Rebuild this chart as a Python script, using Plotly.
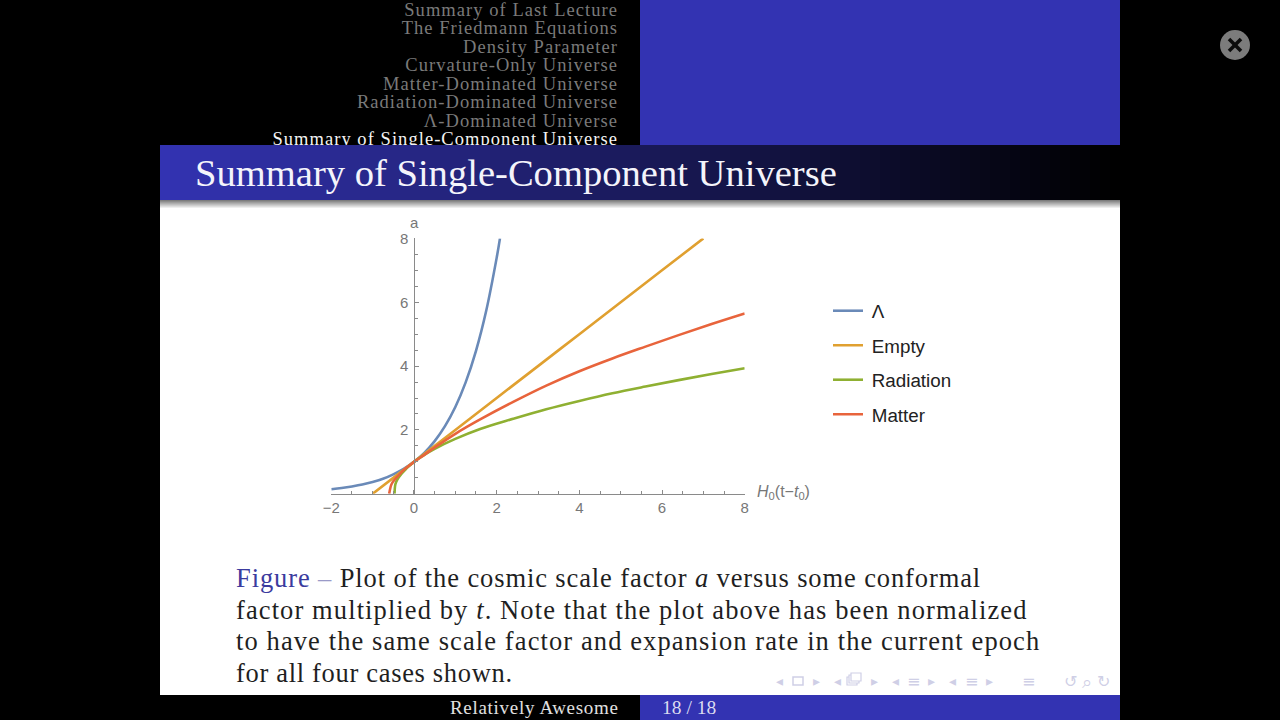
import json
import plotly.graph_objects as go

W, H = 1280, 720

# ---------- chart data ----------
lambda_x = [-2, -1.75, -1.5, -1.25, -1, -0.75, -0.5, -0.25, 0, 0.25, 0.5, 0.75, 1, 1.25, 1.5, 1.75, 2, 2.08]
lambda_y = [0.14, 0.18, 0.23, 0.29, 0.37, 0.47, 0.61, 0.78, 1, 1.28, 1.65, 2.12, 2.72, 3.49, 4.48, 5.75, 7.39, 8]
empty_x = [-1, 0, 1, 2, 3, 4, 5, 6, 7]
empty_y = [0, 1, 2, 3, 4, 5, 6, 7, 8]
radiation_x = [-0.47, -0.45, -0.4, -0.3, -0.2, -0.1, 0, 0.25, 0.5, 1, 1.6, 2.4, 3.2, 4, 4.8, 5.6, 6.4, 7.2, 8]
radiation_y = [0, 0.3, 0.45, 0.63, 0.77, 0.89, 1, 1.22, 1.41, 1.72, 2.03, 2.35, 2.65, 2.91, 3.15, 3.36, 3.56, 3.75, 3.93]
matter_x = [-0.6, -0.55, -0.5, -0.4, -0.3, -0.2, -0.1, 0, 0.25, 0.5, 1, 1.6, 2.4, 3.2, 4, 4.8, 5.6, 6.4, 7.2, 8]
matter_y = [0, 0.28, 0.39, 0.54, 0.68, 0.8, 0.9, 1, 1.22, 1.45, 1.88, 2.33, 2.88, 3.39, 3.84, 4.24, 4.61, 4.97, 5.32, 5.65]

x_tick_vals = [-2, 0, 2, 4, 6, 8]
x_tick_text = ["\u22122", "0", "2", "4", "6", "8"]
y_tick_vals = [2, 4, 6, 8]
y_tick_text = ["2", "4", "6", "8"]

sidebar_lines = ["Summary of Last Lecture", "The Friedmann Equations", "Density Parameter",
                 "Curvature-Only Universe", "Matter-Dominated Universe", "Radiation-Dominated Universe",
                 "\u039b-Dominated Universe", "Summary of Single-Component Universe"]
sidebar_y = [11, 29.5, 48, 66.5, 85, 103.5, 122, 140.5]
sidebar_colors = ["#7a7a7a"] * 7 + ["#f4f4f4"]

caption_lines = [
    "<span style='color:#3b3b9e'>Figure</span> <span style='color:#9a9ac8'>\u2013</span> Plot of the cosmic scale factor <i>a</i> versus some conformal",
    "factor multiplied by <i>t</i>. Note that the plot above has been normalized",
    "to have the same scale factor and expansion rate in the current epoch",
    "for all four cases shown.",
]
caption_y = [578, 609.5, 641, 673]
caption_spacing = [0.89, 1.1, 1.1, 0.68]

BLUE = (51, 51, 178)
AXIS = "#8a8a8a"
LABEL = "#777777"
SERIF = "Liberation Serif"
SANS = "Liberation Sans"


def px(x):
    return x / W


def py(y):
    return 1 - y / H


def rect(x0, y0, x1, y1, color, **kw):
    return dict(type="rect", xref="paper", yref="paper", x0=px(x0), x1=px(x1), y0=py(y0), y1=py(y1),
                fillcolor=color, line=dict(width=0), layer="below", **kw)


def note(x, y, text, size, color, font=SERIF, xanchor="left", **kw):
    return dict(xref="paper", yref="paper", x=px(x), y=py(y), text=text, showarrow=False,
                xanchor=xanchor, yanchor="middle", align="left",
                font=dict(family=font, size=size, color=color), borderpad=0, **kw)


shapes = [
    rect(640, 0, 1120, 146, "#3333b2"),
    rect(160, 145, 1120, 695, "#ffffff"),
    rect(640, 695, 1120, 720, "#3333b2"),
]
# title bar: blue to black, each strip overpainting the rest so no seams show
n = 96
for i in range(n):
    f = 1 - i / (n - 1)
    col = "rgb(%d,%d,%d)" % tuple(round(c * f) for c in BLUE)
    shapes.append(rect(160 + i * 10, 145, 1120, 200, col))
# shadow below the title bar
for i in range(9):
    g = round(125 + i * 130 / 8)
    shapes.append(rect(160, 200 + i, 1120, 209, "rgb(%d,%d,%d)" % (g, g, g)))

# close button
shapes.append(dict(type="circle", xref="paper", yref="paper", x0=px(1220), x1=px(1250), y0=py(30), y1=py(60),
                   fillcolor="#7c7c7c", line=dict(width=0), layer="below"))
for a, b in ((-1, -1), (-1, 1)):
    shapes.append(dict(type="line", xref="paper", yref="paper", x0=px(1235 + a * 6), x1=px(1235 - a * 6),
                       y0=py(45 + b * 6), y1=py(45 - b * 6), line=dict(color="#0c0c0c", width=3.6), layer="above"))

# navigation icons
NAV = "#cfcfe6"
shapes.append(dict(type="rect", xref="paper", yref="paper", x0=px(793), x1=px(803), y0=py(677), y1=py(685),
                   line=dict(color=NAV, width=1.5), layer="below"))
for d in (0, 2, 4):
    shapes.append(dict(type="rect", xref="paper", yref="paper", x0=px(847 + d), x1=px(857 + d),
                       y0=py(685 - d), y1=py(677 - d), fillcolor="#ffffff",
                       line=dict(color=NAV, width=1.2), layer="below"))

annotations = [
    note(193.5, 173, "Summary of Single-Component Universe", 38.6, "#f4f4fb"),
    note(449, 707, "Relatively Awesome", 19, "#e0e0e0"),
    note(661, 707, "18 / 18", 19.5, "#dcdcf0"),
    note(409, 222, "a", 15, LABEL, font=SANS),
    note(756, 492, "<i>H</i><sub>0</sub>(t\u2212<i>t</i><sub>0</sub>)", 16, LABEL, font=SANS),
]
for text, y in zip(caption_lines, caption_y):
    annotations.append(note(234.5, y, text, 26.5, "#1f1f1f"))
for x, glyph, size in [(779, "\u25c2", 14), (816, "\u25b8", 14), (837, "\u25c2", 14), (874, "\u25b8", 14),
                       (895, "\u25c2", 14), (931, "\u25b8", 14), (952, "\u25c2", 14), (989, "\u25b8", 14),
                       (913, "\u2261", 16), (971, "\u2261", 16), (1028, "\u2261", 16),
                       (1070, "\u21ba", 16), (1087, "\u2315", 18), (1103, "\u21bb", 16)]:
    annotations.append(note(x, 681, glyph, size, NAV, font="DejaVu Sans", xanchor="center"))

fig = go.Figure()
series = [
    ("\u039b", lambda_x, lambda_y, "#6a8ab8", "legend", 311),
    ("Empty", empty_x, empty_y, "#e0a030", "legend2", 345.5),
    ("Radiation", radiation_x, radiation_y, "#8fb032", "legend3", 380),
    ("Matter", matter_x, matter_y, "#e8643c", "legend4", 414.5),
]
legends = {}
for name, xs, ys, color, leg, ly in series:
    fig.add_trace(go.Scatter(x=xs, y=ys, name="\u2009" + name, mode="lines", legend=leg, hoverinfo="skip",
                             line=dict(color=color, width=2.6, shape="spline", smoothing=1)))
    legends[leg] = dict(
        x=px(828), y=py(ly), xanchor="left", yanchor="middle", bgcolor="rgba(0,0,0,0)", borderwidth=0,
        itemwidth=30, font=dict(family=SANS, size=18.8, color="#222222"), itemclick=False, itemdoubleclick=False)

# sidebar text, clipped by the title bar through its own pixel-scaled axes
fig.add_trace(go.Scatter(x=[618] * len(sidebar_lines), y=sidebar_y, text=sidebar_lines, mode="text",
                         textposition="middle left", xaxis="x2", yaxis="y2", showlegend=False, hoverinfo="skip",
                         textfont=dict(family=SERIF, size=18.5, color=sidebar_colors), cliponaxis=True))

fig.update_layout(
    width=W, height=H, autosize=False,
    margin=dict(l=0, r=0, t=0, b=0, pad=0, autoexpand=False),
    paper_bgcolor="#000000", plot_bgcolor="rgba(0,0,0,0)",
    xaxis=dict(domain=[px(331.3), px(744.7)], range=[-2, 8], tickvals=x_tick_vals, ticktext=x_tick_text,
               ticks="inside", ticklen=4, tickcolor=AXIS, tickwidth=1, showline=True, linecolor=AXIS, linewidth=1,
               showgrid=False, zeroline=False, tickfont=dict(family=SANS, size=15, color=LABEL),
               minor=dict(dtick=0.5, ticks="inside", ticklen=2.5, tickcolor=AXIS, tickwidth=1, showgrid=False)),
    yaxis=dict(domain=[py(493.8), py(238.4)], range=[0, 8], anchor="free", position=px(414.3),
               tickvals=y_tick_vals, ticktext=y_tick_text, ticklabelstandoff=3,
               ticks="inside", ticklen=4, tickcolor=AXIS, tickwidth=1, showline=True, linecolor=AXIS, linewidth=1,
               showgrid=False, zeroline=False, tickfont=dict(family=SANS, size=15, color=LABEL),
               minor=dict(dtick=0.5, ticks="inside", ticklen=2.5, tickcolor=AXIS, tickwidth=1, showgrid=False)),
    xaxis2=dict(domain=[0, px(640)], range=[0, 640], visible=False, anchor="y2"),
    yaxis2=dict(domain=[py(145), 1], range=[145, 0], visible=False, anchor="x2"),
    shapes=shapes, annotations=annotations, hovermode=False, showlegend=True,
    **legends,
)

post = """
document.body.style.margin='0';document.body.style.background='#000';
var notes=document.querySelectorAll('.annotation-text');
var caption=%s;
caption.forEach(function(s,i){notes[5+i].style.letterSpacing=s+'px';});
notes[1].style.letterSpacing='0.7px';
document.querySelectorAll('.textpoint text').forEach(function(t){t.style.letterSpacing='1.05px';});
""" % json.dumps(caption_spacing)

fig.write_html("out.html", config={"displayModeBar": False}, post_script=post)
